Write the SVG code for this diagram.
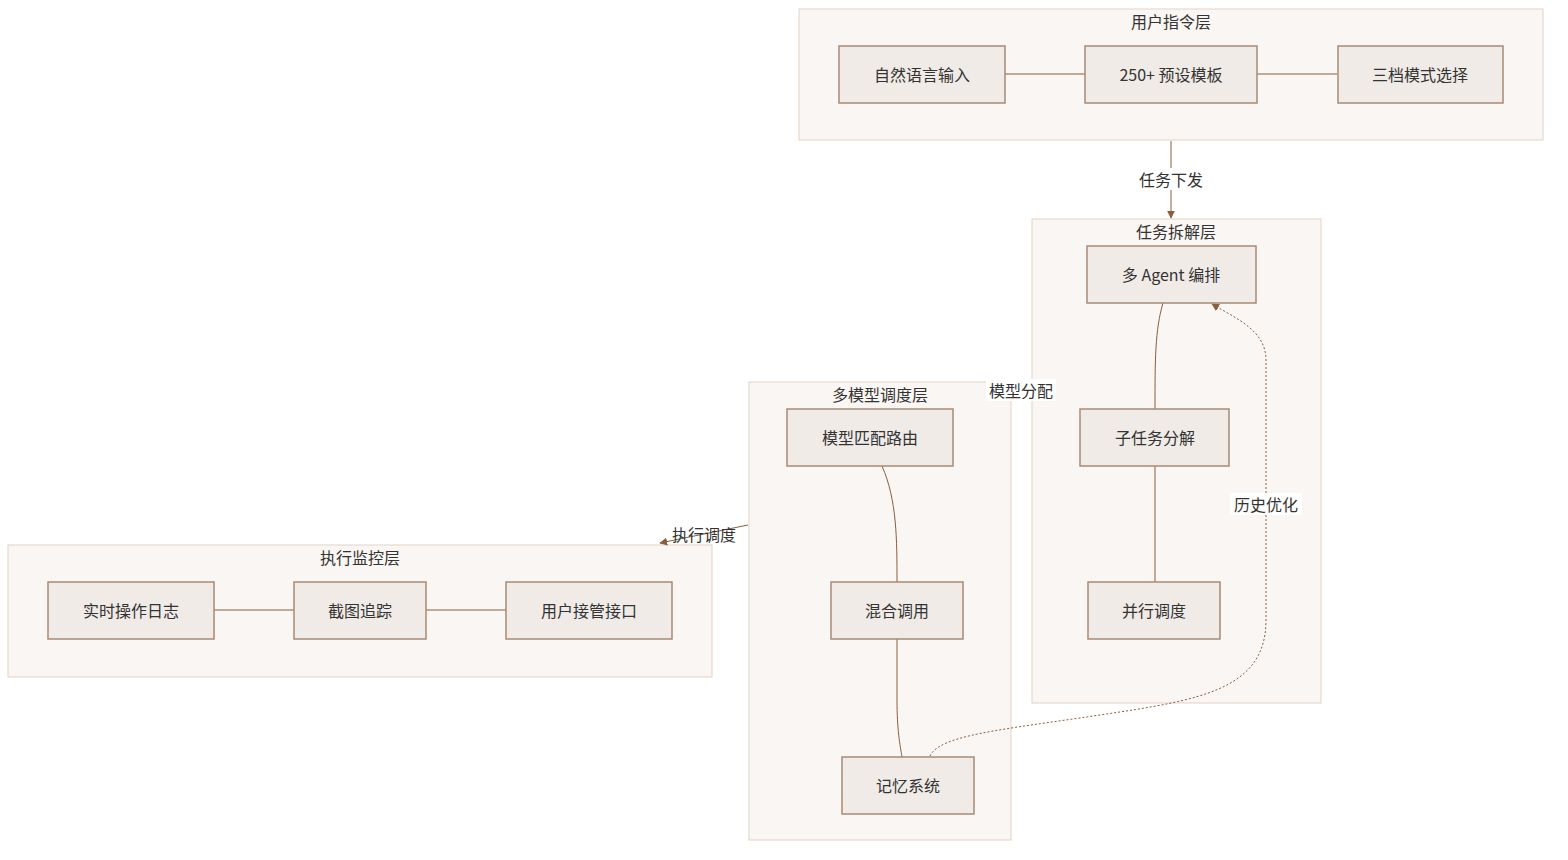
<svg xmlns="http://www.w3.org/2000/svg" width="1568" height="860" viewBox="0 0 1568 860">
<style>
.cl{fill:#faf6f3;stroke:#e2d3c7;stroke-width:1}
.nd{fill:#f0ebe7;stroke:#a98a76;stroke-width:1.5}
text{font-family:"Noto Sans CJK SC","Noto Sans",sans-serif;font-size:16px;fill:#333;text-anchor:middle;dominant-baseline:central}
.e{fill:none;stroke:#8b5e3c;stroke-width:1}
.d{fill:none;stroke:#8b5e3c;stroke-width:1;stroke-dasharray:2 2}
.lb{fill:#fff}
</style>
<defs><marker id="a" viewBox="0 0 10 10" refX="9" refY="5" markerWidth="8" markerHeight="8" orient="auto"><path d="M0,0L10,5L0,10z" fill="#8b5e3c"/></marker></defs>
<g id="c1"><rect class="cl" x="799" y="9" width="744" height="131"/><text x="1171" y="21">用户指令层</text></g>
<g id="c2"><rect class="cl" x="1032" y="219" width="289" height="484"/><text x="1176" y="231">任务拆解层</text></g>
<g id="c3"><rect class="cl" x="749" y="382" width="262" height="458"/><text x="880" y="394">多模型调度层</text></g>
<g id="c4"><rect class="cl" x="8" y="545" width="704" height="132"/><text x="360" y="557">执行监控层</text></g>
<g id="edges">
<path class="e" d="M1005,74H1085M1257,74H1337"/>
<path class="e" d="M1171,141V218" marker-end="url(#a)"/>
<rect class="lb" x="1136" y="168" width="70" height="22"/><text x="1171" y="179">任务下发</text>
<path class="e" d="M1163,303C1155,330 1155,360 1155,409M1155,466V582"/>
<path class="e" d="M882,466C897,500 897,540 897,582M897,639V700C897,730 900,745 902,757"/>
<path class="d" d="M930,756C940,735 1000,730 1100,715C1200,700 1266,690 1266,620V360C1266,330 1235,318 1212,304" marker-end="url(#a)"/>
<rect class="lb" x="1230" y="493" width="72" height="22"/><text x="1266" y="504">历史优化</text>
<rect class="lb" x="986" y="379" width="70" height="22"/><text x="1021" y="390">模型分配</text>
<path class="e" d="M748,525L660,543" marker-end="url(#a)"/>
<text x="704" y="534">执行调度</text>
<path class="e" d="M214,610H294M426,610H506"/>
</g>
<g id="n1"><rect class="nd" x="839" y="46" width="166" height="57"/><text x="922" y="74">自然语言输入</text></g>
<g id="n2"><rect class="nd" x="1085" y="46" width="172" height="57"/><text x="1171" y="74">250+ 预设模板</text></g>
<g id="n3"><rect class="nd" x="1338" y="46" width="165" height="57"/><text x="1420" y="74">三档模式选择</text></g>
<g id="n4"><rect class="nd" x="1087" y="246" width="169" height="57"/><text x="1171" y="274">多 Agent 编排</text></g>
<g id="n5"><rect class="nd" x="1080" y="409" width="149" height="57"/><text x="1155" y="437">子任务分解</text></g>
<g id="n6"><rect class="nd" x="1088" y="582" width="132" height="57"/><text x="1154" y="610">并行调度</text></g>
<g id="n7"><rect class="nd" x="787" y="409" width="166" height="57"/><text x="870" y="437">模型匹配路由</text></g>
<g id="n8"><rect class="nd" x="831" y="582" width="132" height="57"/><text x="897" y="610">混合调用</text></g>
<g id="n9"><rect class="nd" x="842" y="757" width="132" height="57"/><text x="908" y="785">记忆系统</text></g>
<g id="n10"><rect class="nd" x="48" y="582" width="166" height="57"/><text x="131" y="610">实时操作日志</text></g>
<g id="n11"><rect class="nd" x="294" y="582" width="132" height="57"/><text x="360" y="610">截图追踪</text></g>
<g id="n12"><rect class="nd" x="506" y="582" width="166" height="57"/><text x="589" y="610">用户接管接口</text></g>
</svg>
